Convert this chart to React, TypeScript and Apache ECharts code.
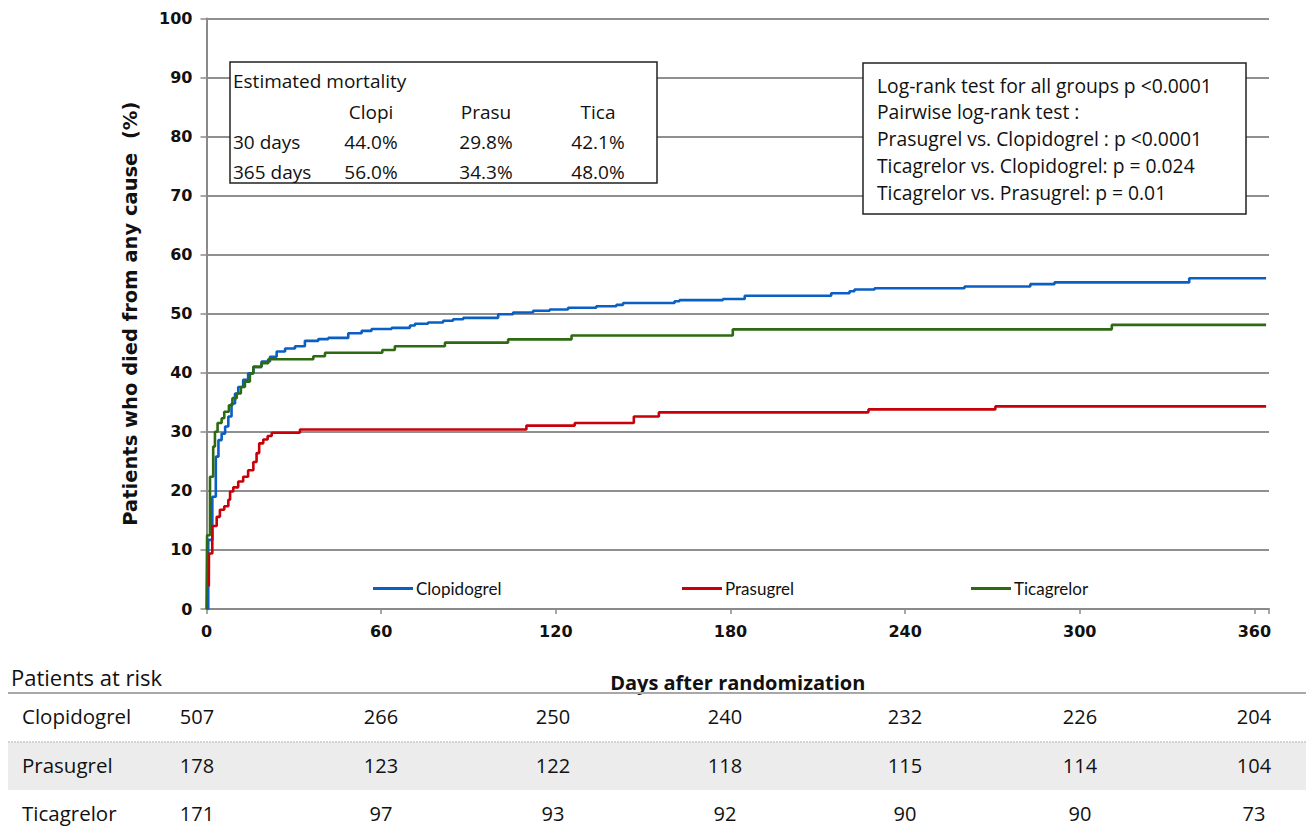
import React, { useEffect, useRef } from "react";
import * as echarts from "echarts";

// ---- Data ----
const clopiDays = [0, 0.6, 2.0, 3.2, 4.1, 5.2, 6.4, 7.5, 8.6, 9.8, 10.9, 12.6, 14.3, 16.1, 18.9, 21.8, 24.1, 27, 30.4, 33.8, 38.4, 41.8, 48.7, 53.3, 56.7, 63.6, 69.9, 71.6, 76.1, 81.3, 84.7, 88.2, 100.2, 105.3, 112.2, 117.9, 124.2, 133.9, 140.8, 143.1, 160.8, 162.5, 177.4, 184.9, 214.6, 220.9, 222.6, 229.5, 260.4, 283, 291.3, 337.6, 364];
const clopiVals = [0, 11.7, 19.0, 25.8, 28.6, 29.7, 30.9, 32.6, 34.8, 36.5, 37.6, 38.8, 39.9, 41.0, 41.9, 42.7, 43.6, 44.1, 44.5, 45.4, 45.7, 45.9, 46.7, 47.1, 47.4, 47.6, 48.0, 48.3, 48.5, 48.8, 49.05, 49.3, 49.9, 50.2, 50.5, 50.7, 51.0, 51.25, 51.5, 51.8, 52.1, 52.3, 52.5, 53.05, 53.45, 53.8, 54.1, 54.3, 54.6, 55.0, 55.3, 56.0, 56.0];

const prasuDays = [0.8, 0.85, 2.0, 3.5, 4.6, 6.1, 7.5, 8.1, 9.2, 10.9, 12.6, 14.3, 16.1, 17.2, 18.1, 19.5, 21, 22.4, 32.1, 109.9, 126.5, 146.8, 155.4, 227.4, 271, 364];
const prasuVals = [3.8, 9.4, 14.05, 15.6, 16.8, 17.4, 18.5, 19.9, 20.6, 21.6, 22.4, 23.5, 24.9, 26.4, 28.05, 28.7, 29.3, 29.85, 30.4, 31.05, 31.5, 32.6, 33.3, 33.8, 34.3, 34.3];

const ticaDays = [0, 0.2, 1.2, 2.3, 2.9, 3.8, 5.2, 6.1, 7.7, 8.9, 10.4, 11.8, 13.2, 14.9, 16.1, 18.9, 21.2, 36.7, 40.7, 60.4, 64.7, 81.9, 103.6, 125.4, 180.8, 311, 364];
const ticaVals = [0, 12.5, 22.4, 27.5, 30.0, 31.5, 32.3, 33.4, 34.5, 35.7, 36.5, 37.6, 38.5, 39.9, 41.0, 41.6, 42.3, 42.8, 43.4, 43.85, 44.5, 45.1, 45.65, 46.3, 47.35, 48.1, 48.1];

const seriesNames = ["Clopidogrel", "Prasugrel", "Ticagrelor"];
const seriesColors = ["#0a5fc4", "#c8000a", "#2d6a12"];

const mortalityHeader = ["Clopi", "Prasu", "Tica"];
const mortalityRows = ["30 days", "365 days"];
const mortality30 = ["44.0%", "29.8%", "42.1%"];
const mortality365 = ["56.0%", "34.3%", "48.0%"];

const statLines = [
  "Log-rank test for all groups p <0.0001",
  "Pairwise log-rank test :",
  "Prasugrel vs. Clopidogrel : p <0.0001",
  "Ticagrelor vs. Clopidogrel: p = 0.024",
  "Ticagrelor vs. Prasugrel: p = 0.01",
];

const riskClopi = [507, 266, 250, 240, 232, 226, 204];
const riskPrasu = [178, 123, 122, 118, 115, 114, 104];
const riskTica = [171, 97, 93, 92, 90, 90, 73];

// ---- layout (not data) ----
const riskColX = [197, 381, 553, 725, 905, 1080, 1254];
const legendLeft = [373, 682, 971];

const zip = (d: number[], v: number[]) => d.map((x, i) => [x, v[i]]);

const TXT = "'Open Sans', Lato, sans-serif";
const LEG = "Lato, 'Open Sans', sans-serif";
const BOLD = "'DejaVu Sans', Verdana, sans-serif";

export default function App() {
  const ref = useRef<HTMLDivElement>(null);
  useEffect(() => {
    if (!ref.current) return;
    const chart = echarts.init(ref.current, undefined, { renderer: "svg" });

    const txt = (text: string, x: number, y: number, size: number, align = "left", extra: any = {}) => ({
      type: "text",
      z: 100,
      style: {
        text, x, y,
        font: `${extra.weight || "normal"} ${size}px ${extra.family || TXT}`,
        fill: extra.fill || "#111",
        align, verticalAlign: "middle",
        textAlign: align, textVerticalAlign: "middle",
      },
    });

    const graphics: any[] = [];
    // Mortality box
    graphics.push({ type: "rect", z: 90, shape: { x: 230, y: 62, width: 427, height: 121 }, style: { fill: "#fff", stroke: "#222", lineWidth: 1.5 } });
    graphics.push(txt("Estimated mortality", 233, 81, 19));
    const mcx = [371, 486, 598];
    mortalityHeader.forEach((h, i) => graphics.push(txt(h, mcx[i], 112, 19, "center")));
    graphics.push(txt(mortalityRows[0], 233, 142, 19));
    graphics.push(txt(mortalityRows[1], 233, 172, 19));
    mortality30.forEach((v, i) => graphics.push(txt(v, mcx[i], 142, 19, "center")));
    mortality365.forEach((v, i) => graphics.push(txt(v, mcx[i], 172, 19, "center")));

    // Stats box
    graphics.push({ type: "rect", z: 90, shape: { x: 863, y: 63, width: 383, height: 151 }, style: { fill: "#fff", stroke: "#222", lineWidth: 1.5 } });
    const sy = [85, 111, 138, 165, 192];
    statLines.forEach((s, i) => graphics.push(txt(s, 877, sy[i], 19.3)));

    // Patients at risk table
    graphics.push(txt("Patients at risk", 11, 677, 22));
    graphics.push({ type: "rect", z: 80, shape: { x: 8, y: 742, width: 1298, height: 48 }, style: { fill: "#ececec" } });
    graphics.push({ type: "line", z: 85, shape: { x1: 8, y1: 693, x2: 1306, y2: 693 }, style: { stroke: "#a8a8a8", lineWidth: 2 } });
    graphics.push({ type: "line", z: 85, shape: { x1: 8, y1: 742, x2: 1306, y2: 742 }, style: { stroke: "#d4d4d4", lineWidth: 2, lineDash: [2, 1] } });
    const rows = [riskClopi, riskPrasu, riskTica];
    const rowY = [716, 765, 813];
    rows.forEach((r, ri) => {
      graphics.push(txt(seriesNames[ri], 22, rowY[ri], 20.5));
      r.forEach((v, ci) => graphics.push(txt(String(v), riskColX[ci], rowY[ri], 20, "center")));
    });

    chart.setOption({
      animation: false,
      backgroundColor: "#fff",
      grid: { left: 206.5, right: 37, top: 18.4, bottom: 225, containLabel: false },
      legend: seriesNames.map((n, i) => ({
        data: [{ name: n, icon: "rect" }],
        left: legendLeft[i],
        top: 580,
        itemWidth: 40,
        itemHeight: 3,
        itemGap: 0,
        padding: 0,
        textStyle: { fontFamily: LEG, fontSize: 17, color: "#111", padding: [0, 0, 0, -2] },
      })),
      xAxis: {
        type: "value",
        min: 0,
        max: 365,
        interval: 60,
        name: "Days after randomization",
        nameLocation: "middle",
        nameGap: 63,
        nameTextStyle: { fontFamily: TXT, fontWeight: "bold", fontSize: 20, color: "#111" },
        axisLine: { show: true, lineStyle: { color: "#8a8a8a", width: 2 } },
        axisTick: { show: true, inside: false, length: 5, lineStyle: { color: "#8a8a8a", width: 1.5 } },
        axisLabel: {
          margin: 14,
          fontFamily: BOLD, fontWeight: "bold", fontSize: 16, color: "#111",
          formatter: (v: number) => (v % 60 === 0 ? String(v) : ""),
        },
        splitLine: { show: false },
      },
      yAxis: {
        type: "value",
        min: 0,
        max: 100,
        interval: 10,
        name: "Patients who died from any cause  (%)",
        nameLocation: "middle",
        nameGap: 66,
        nameRotate: 90,
        nameTextStyle: { fontFamily: BOLD, fontWeight: "bold", fontSize: 19.5, color: "#111" },
        axisLine: { show: true, lineStyle: { color: "#8a8a8a", width: 2 } },
        axisTick: { show: true, inside: false, length: 6, lineStyle: { color: "#8a8a8a", width: 1.5 } },
        axisLabel: { margin: 14, fontFamily: BOLD, fontWeight: "bold", fontSize: 16, color: "#111" },
        splitLine: { show: true, lineStyle: { color: "#8f8f8f", width: 2 } },
      },
      series: [
        { name: seriesNames[0], type: "line", step: "end", showSymbol: false, data: zip(clopiDays, clopiVals), color: seriesColors[0], lineStyle: { width: 2.6, color: seriesColors[0] }, z: 3 },
        { name: seriesNames[1], type: "line", step: "end", showSymbol: false, data: zip(prasuDays, prasuVals), color: seriesColors[1], lineStyle: { width: 2.6, color: seriesColors[1] }, z: 4 },
        { name: seriesNames[2], type: "line", step: "end", showSymbol: false, data: zip(ticaDays, ticaVals), color: seriesColors[2], lineStyle: { width: 2.6, color: seriesColors[2] }, z: 5 },
      ],
      graphic: graphics,
    });
    return () => chart.dispose();
  }, []);
  return <div ref={ref} style={{ position: "fixed", left: 0, top: 0, width: 1306, height: 834, background: "#fff" }} />;
}
